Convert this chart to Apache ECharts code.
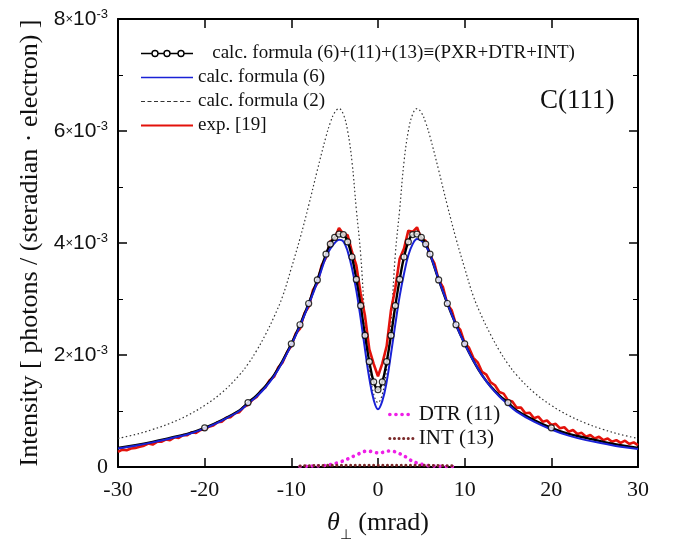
<!DOCTYPE html>
<html><head><meta charset="utf-8">
<script src="https://cdn.jsdelivr.net/npm/echarts@6/dist/echarts.min.js"></script>
<style>html,body{margin:0;padding:0;background:#fff}#c{width:675px;height:547px}</style>
</head><body><div id="c"></div>
<script>
// Intensities are in units of 1e-3 photons/(steradian·electron); angles in mrad.
const calcX = [-30,-28,-26,-24,-22,-20,-18,-16,-15,-14,-13,-12,-11,-10,-9,-8,-7,-6,-5.5,-5,-4.5,-4,-3.5,-3,-2.5,-2,-1.5,-1,-0.5,0,0.5,1,1.5,2,2.5,3,3.5,4,4.5,5,5.5,6,7,8,9,10,11,12,13,14,15,16,18,20,22,24,26,28,30];
const formula6 = [0.33,0.38,0.44,0.51,0.58,0.69,0.83,1.00,1.13,1.26,1.42,1.62,1.88,2.18,2.52,2.90,3.30,3.75,3.90,4.00,4.06,4.03,3.85,3.55,3.15,2.65,2.10,1.58,1.20,1.03,1.18,1.52,2.02,2.55,3.05,3.45,3.78,3.98,4.07,4.04,3.95,3.80,3.35,2.93,2.54,2.20,1.90,1.64,1.43,1.26,1.12,0.99,0.81,0.67,0.56,0.48,0.42,0.36,0.32];
const totalCalc = [0.34,0.39,0.45,0.52,0.59,0.70,0.84,1.01,1.15,1.28,1.44,1.64,1.90,2.20,2.54,2.92,3.34,3.80,3.98,4.10,4.16,4.15,4.02,3.75,3.35,2.88,2.35,1.88,1.52,1.38,1.52,1.88,2.35,2.88,3.35,3.75,4.02,4.15,4.16,4.10,3.98,3.80,3.34,2.92,2.54,2.20,1.90,1.64,1.44,1.28,1.15,1.01,0.84,0.70,0.59,0.52,0.45,0.39,0.34];
const formula2 = [0.51,0.58,0.67,0.78,0.92,1.10,1.33,1.64,1.84,2.08,2.36,2.68,3.05,3.55,4.08,4.67,5.30,5.90,6.15,6.33,6.40,6.30,6.00,5.45,4.60,3.80,2.60,1.75,1.30,1.15,1.30,1.75,2.60,3.80,4.60,5.45,6.00,6.30,6.40,6.33,6.15,5.90,5.30,4.67,4.08,3.55,3.05,2.68,2.36,2.08,1.84,1.64,1.33,1.10,0.92,0.78,0.67,0.58,0.51];
const circleX = [-20,-15,-10,-9,-8,-7,-6,-5.5,-5,-4.5,-4,-3.5,-3,-2.5,-2,-1.5,-1,-0.5,0,0.5,1,1.5,2,2.5,3,3.5,4,4.5,5,5.5,6,7,8,9,10,15,20];
const expX = [-30,-29.5,-29,-28.5,-28,-27.5,-27,-26.5,-26,-25.5,-25,-24.5,-24,-23.5,-23,-22.5,-22,-21.5,-21,-20.5,-20,-19.5,-19,-18.5,-18,-17.5,-17,-16.5,-16,-15.5,-15,-14.5,-14,-13.5,-13,-12.5,-12,-11.5,-11,-10.5,-10,
-9.5,-9,-8.5,-8,-7.5,-7,-6.5,-6,-5.5,-5,-4.5,-4,-3.5,-3,-2.5,-2,-1.5,-1,-0.5,0,0.5,1,1.5,2,2.5,3,3.5,4,4.5,5,5.5,6,6.5,7,7.5,8,8.5,9,9.5,10,
10.5,11,11.5,12,12.5,13,13.5,14,14.5,15,15.5,16,16.5,17,17.5,18,18.5,19,19.5,20,20.5,21,21.5,22,22.5,23,23.5,24,24.5,25,25.5,26,26.5,27,27.5,28,28.5,29,29.5,30];
const expY = [0.27,0.31,0.30,0.33,0.34,0.36,0.38,0.42,0.40,0.45,0.45,0.49,0.48,0.53,0.52,0.57,0.57,0.62,0.61,0.66,0.67,0.72,0.74,0.80,0.81,0.88,0.89,0.96,0.98,1.07,1.11,1.20,1.25,1.36,1.42,1.55,1.61,1.78,1.87,2.05,2.16,
2.38,2.47,2.74,2.86,3.16,3.28,3.60,3.74,4.03,4.08,4.27,4.16,4.14,3.84,3.60,3.10,2.70,2.10,1.84,1.62,1.85,2.16,2.80,3.20,3.72,3.90,4.22,4.20,4.28,4.07,4.04,3.78,3.64,3.34,3.21,2.91,2.80,2.54,2.45,2.21,
2.13,1.95,1.87,1.70,1.65,1.51,1.46,1.34,1.31,1.19,1.17,1.06,1.06,0.96,0.97,0.87,0.90,0.81,0.83,0.75,0.77,0.69,0.71,0.63,0.66,0.59,0.61,0.54,0.57,0.51,0.54,0.48,0.51,0.45,0.48,0.43,0.47,0.41,0.44,0.39];
const dtrX = [-9,-8,-7,-6,-5,-4,-3,-2,-1.5,-1,-0.5,0,0.5,1,1.5,2,3,4,5,6,7,8,9];
const dtrY = [0.01,0.015,0.02,0.03,0.06,0.11,0.18,0.25,0.28,0.28,0.27,0.25,0.26,0.28,0.29,0.27,0.20,0.10,0.05,0.02,0.015,0.01,0.01];
const intX = [-9,-6,-3,0,3,6,9];
const intY = [0.02,0.03,0.03,0.03,0.03,0.03,0.02];
const yTickValues = [0,2,4,6,8];
const xTickValues = [-30,-20,-10,0,10,20,30];

const N_TOTAL = 'calc. formula (6)+(11)+(13)\u2261(PXR+DTR+INT)';
const N_F6 = 'calc. formula (6)';
const N_F2 = 'calc. formula (2)';
const N_EXP = 'exp. [19]';
const N_DTR = 'DTR (11)';
const N_INT = 'INT (13)';

const SERIF = "'Liberation Serif','Times New Roman',serif";
const SANS = "'Liberation Sans',Arial,sans-serif";
const pair = (xs, ys) => xs.map((x, i) => [x, ys[i]]);
const circlePts = circleX.map(x => [x, totalCalc[calcX.indexOf(x)]]);

const chart = echarts.init(document.getElementById('c'), null, {renderer: 'canvas'});
const axisLine = {show: true, onZero: false, lineStyle: {color: '#000', width: 2}};
const axisTick = {show: true, inside: true, length: 9, lineStyle: {color: '#000', width: 1.5}};
const yRich = {
  m: {fontFamily: SANS, fontSize: 21, color: '#111'},
  x: {fontFamily: SANS, fontSize: 13, color: '#111'},
  s: {fontFamily: SANS, fontSize: 13, color: '#111', verticalAlign: 'bottom', padding: [0, 0, 9, 0]},
  z: {fontFamily: SERIF, fontSize: 22, color: '#111'}
};
const dtrLine = {color: '#ee1fe6', width: 3.6, type: [0.1, 6], cap: 'round'};
const intLine = {color: '#7a2a2a', width: 3, type: [0.1, 4.5], cap: 'round'};
const noSym = {opacity: 0};

chart.setOption({
  animation: false,
  backgroundColor: '#fff',
  grid: {left: 118, right: 37, top: 19, bottom: 79},
  xAxis: [{
    type: 'value', min: -30, max: 30, interval: 10, position: 'bottom',
    axisLine, axisTick, splitLine: {show: false},
    axisLabel: {fontFamily: SERIF, fontSize: 22, color: '#111', margin: 12,
      formatter: v => xTickValues.includes(v) ? String(v) : ''},
    name: '{t|\u03b8}{u|\u22a5}{n| (mrad)}', nameLocation: 'middle', nameGap: 43,
    nameTextStyle: {rich: {
      t: {fontFamily: SERIF, fontStyle: 'italic', fontSize: 26, color: '#111'},
      u: {fontFamily: SERIF, fontSize: 14, color: '#111', verticalAlign: 'bottom', padding: [0, 0, -6, 0]},
      n: {fontFamily: SERIF, fontSize: 26, color: '#111'}
    }}
  }, {
    type: 'value', min: -30, max: 30, interval: 10, position: 'top',
    axisLine, axisTick, axisLabel: {show: false}, splitLine: {show: false}
  }],
  yAxis: [{
    type: 'value', min: 0, max: 8, interval: 2, position: 'left',
    axisLine, axisTick, splitLine: {show: false},
    minorTick: {show: true, splitNumber: 2, length: 5, lineStyle: {color: '#000', width: 1}},
    axisLabel: {margin: 10, rich: yRich,
      formatter: v => !yTickValues.includes(v) ? '' : (v === 0 ? '{z|0}' : '{m|' + v + '}{x|\u00d7}{m|10}{s|-3}')},
    name: 'Intensity [ photons / (steradian \u00b7 electron) ]', nameLocation: 'middle', nameGap: 75,
    nameTextStyle: {fontFamily: SERIF, fontSize: 26, color: '#111'}
  }, {
    type: 'value', min: 0, max: 8, interval: 2, position: 'right',
    axisLine, axisTick, splitLine: {show: false},
    minorTick: {show: true, splitNumber: 2, length: 5, lineStyle: {color: '#000', width: 1}},
    axisLabel: {show: false}
  }],
  legend: [{
    left: 140, top: 44, orient: 'vertical', itemWidth: 52, itemHeight: 8, itemGap: 5, padding: 0,
    textStyle: {fontFamily: SERIF, fontSize: 19, color: '#111'},
    data: [
      {name: N_TOTAL, icon: 'path://M0,4L11,4M17,4L23,4M29,4L37,4M43,4L52,4M17,4A3,3,0,1,1,11,4A3,3,0,1,1,17,4ZM29,4A3,3,0,1,1,23,4A3,3,0,1,1,29,4ZM43,4A3,3,0,1,1,37,4A3,3,0,1,1,43,4Z',
        itemStyle: {color: '#fff', borderColor: '#000', borderWidth: 1.4}},
      {name: N_F6, itemStyle: noSym, lineStyle: {width: 1.3}},
      {name: N_F2, itemStyle: noSym, lineStyle: {type: [4, 2.5], width: 1.2}},
      {name: N_EXP, itemStyle: noSym}
    ],
    formatter: n => n === N_TOTAL ? '   ' + n : n
  }, {
    left: 388, top: 404, orient: 'vertical', itemWidth: 24, itemHeight: 8, itemGap: 3, padding: 0,
    textStyle: {fontFamily: SERIF, fontSize: 21, color: '#111'},
    data: [{name: N_DTR, itemStyle: noSym, lineStyle: dtrLine}, {name: N_INT, itemStyle: noSym, lineStyle: intLine}]
  }],
  graphic: [{
    type: 'text', left: 540, top: 87,
    style: {text: 'C(111)', font: '27px ' + SERIF, fill: '#111'}
  }],
  series: [
    {name: N_F2, type: 'line', data: pair(calcX, formula2), symbol: 'none', smooth: 0.4,
      lineStyle: {color: '#333', width: 1.2, type: [1.5, 2.5]}, itemStyle: {color: '#333'}},
    {name: N_EXP, type: 'line', data: pair(expX, expY), symbol: 'none',
      lineStyle: {color: '#e3120b', width: 2.6}, itemStyle: {color: '#e3120b'}},
    {name: N_TOTAL, type: 'line', data: pair(calcX, totalCalc), symbol: 'none', smooth: 0.4,
      lineStyle: {color: '#000', width: 2.4}, itemStyle: {color: '#000'}},
    {name: N_F6, type: 'line', data: pair(calcX, formula6), symbol: 'none', smooth: 0.4,
      lineStyle: {color: '#1a22d6', width: 2}, itemStyle: {color: '#1a22d6'}},
    {name: N_TOTAL, type: 'scatter', data: circlePts, symbol: 'circle', symbolSize: 6,
      itemStyle: {color: '#fff', borderColor: '#000', borderWidth: 1.2}, z: 5},
    {name: N_DTR, type: 'line', data: pair(dtrX, dtrY), symbol: 'none', smooth: 0.3,
      lineStyle: dtrLine, itemStyle: {color: '#ee1fe6'}},
    {name: N_INT, type: 'line', data: pair(intX, intY), symbol: 'none',
      lineStyle: intLine, itemStyle: {color: '#7a2a2a'}}
  ]
});
</script>
</body></html>
